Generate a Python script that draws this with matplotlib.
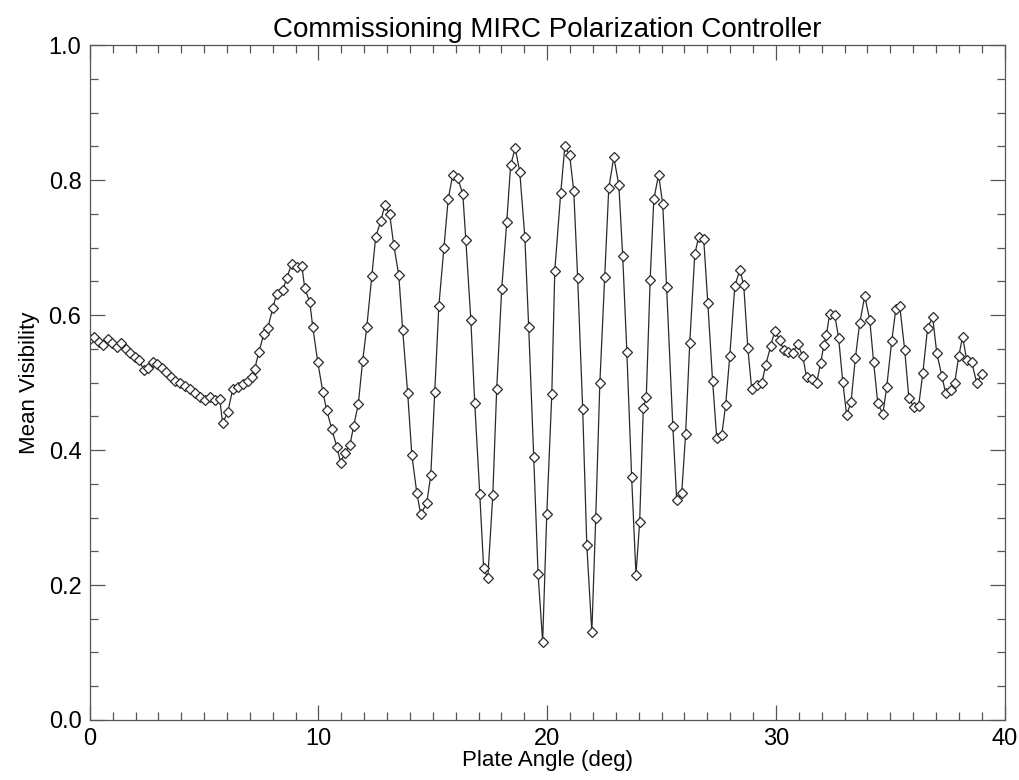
import matplotlib
matplotlib.use("Agg")
import matplotlib.pyplot as plt
from matplotlib.ticker import MultipleLocator

plate_angle = [
    0.00, 0.20, 0.39, 0.59, 0.79, 0.98, 1.18, 1.37, 1.57, 1.77,
    1.96, 2.16, 2.36, 2.55, 2.75, 2.95, 3.14, 3.34, 3.54, 3.73,
    3.93, 4.15, 4.37, 4.59, 4.81, 5.03, 5.25, 5.46, 5.68, 5.81,
    6.03, 6.25, 6.47, 6.69, 6.91, 7.08, 7.21, 7.39, 7.61, 7.78,
    8.00, 8.17, 8.44, 8.61, 8.83, 9.05, 9.27, 9.40, 9.62, 9.75,
    9.97, 10.19, 10.36, 10.58, 10.80, 10.97, 11.15, 11.37, 11.54, 11.74,
    11.93, 12.11, 12.33, 12.50, 12.72, 12.90, 13.11, 13.29, 13.51, 13.68,
    13.90, 14.08, 14.30, 14.47, 14.73, 14.91, 15.08, 15.26, 15.48, 15.67,
    15.87, 16.09, 16.31, 16.44, 16.66, 16.83, 17.05, 17.22, 17.40, 17.62,
    17.79, 18.01, 18.23, 18.40, 18.60, 18.80, 19.02, 19.19, 19.41, 19.60,
    19.80, 19.98, 20.20, 20.33, 20.59, 20.77, 20.98, 21.16, 21.33, 21.55,
    21.73, 21.95, 22.12, 22.30, 22.51, 22.69, 22.91, 23.13, 23.30, 23.48,
    23.69, 23.88, 24.04, 24.20, 24.33, 24.50, 24.66, 24.87, 25.05, 25.22,
    25.49, 25.66, 25.88, 26.05, 26.23, 26.45, 26.62, 26.84, 27.02, 27.23,
    27.41, 27.63, 27.80, 27.98, 28.20, 28.42, 28.59, 28.77, 28.94, 29.16,
    29.38, 29.55, 29.77, 29.95, 30.16, 30.34, 30.51, 30.73, 30.95, 31.17,
    31.34, 31.56, 31.78, 31.95, 32.10, 32.20, 32.35, 32.57, 32.74, 32.92,
    33.09, 33.28, 33.47, 33.66, 33.88, 34.10, 34.27, 34.45, 34.67, 34.84,
    35.06, 35.24, 35.41, 35.63, 35.81, 36.03, 36.24, 36.42, 36.63, 36.85,
    37.03, 37.25, 37.42, 37.64, 37.81, 37.99, 38.16, 38.34, 38.56, 38.78,
    39.00,
]

mean_visibility = [
    0.565, 0.568, 0.560, 0.556, 0.564, 0.558, 0.553, 0.558, 0.550, 0.544,
    0.538, 0.533, 0.519, 0.521, 0.530, 0.527, 0.521, 0.515, 0.509, 0.503,
    0.500, 0.495, 0.490, 0.484, 0.479, 0.474, 0.478, 0.474, 0.476, 0.440,
    0.456, 0.490, 0.494, 0.498, 0.502, 0.508, 0.520, 0.545, 0.572, 0.581,
    0.610, 0.632, 0.637, 0.655, 0.676, 0.671, 0.673, 0.640, 0.619, 0.582,
    0.530, 0.486, 0.459, 0.431, 0.405, 0.381, 0.396, 0.407, 0.436, 0.468,
    0.532, 0.582, 0.658, 0.716, 0.739, 0.763, 0.750, 0.704, 0.659, 0.578,
    0.484, 0.393, 0.336, 0.305, 0.321, 0.363, 0.486, 0.613, 0.699, 0.772,
    0.808, 0.803, 0.779, 0.712, 0.593, 0.470, 0.335, 0.225, 0.210, 0.333,
    0.490, 0.639, 0.738, 0.822, 0.848, 0.812, 0.716, 0.582, 0.389, 0.216,
    0.116, 0.305, 0.483, 0.666, 0.781, 0.850, 0.837, 0.784, 0.655, 0.461,
    0.259, 0.130, 0.299, 0.499, 0.656, 0.788, 0.834, 0.793, 0.687, 0.546,
    0.360, 0.215, 0.293, 0.462, 0.478, 0.652, 0.772, 0.808, 0.764, 0.641,
    0.436, 0.326, 0.336, 0.424, 0.558, 0.690, 0.716, 0.713, 0.618, 0.502,
    0.418, 0.422, 0.467, 0.539, 0.643, 0.667, 0.645, 0.551, 0.490, 0.496,
    0.499, 0.526, 0.554, 0.577, 0.563, 0.548, 0.545, 0.544, 0.557, 0.539,
    0.508, 0.505, 0.499, 0.529, 0.556, 0.570, 0.602, 0.600, 0.566, 0.501,
    0.452, 0.471, 0.536, 0.588, 0.628, 0.593, 0.530, 0.470, 0.453, 0.493,
    0.561, 0.609, 0.614, 0.548, 0.477, 0.464, 0.466, 0.514, 0.581, 0.597,
    0.544, 0.510, 0.484, 0.489, 0.499, 0.539, 0.568, 0.533, 0.530, 0.499,
    0.513,
]

title = "Commissioning MIRC Polarization Controller"
xlabel = "Plate Angle (deg)"
ylabel = "Mean Visibility"
xticks = [0, 10, 20, 30, 40]
yticks = [0.0, 0.2, 0.4, 0.6, 0.8, 1.0]

plt.rcParams['font.family'] = ['Liberation Sans', 'DejaVu Sans']

fig = plt.figure(figsize=(10.2, 7.8), dpi=100)
ax = fig.add_axes([0.088, 0.077, 0.897, 0.865])

ax.plot(plate_angle, mean_visibility, color='#2a2a2a', linewidth=0.9,
        marker='D', markersize=5.4, markerfacecolor='white',
        markeredgecolor='#2a2a2a', markeredgewidth=0.9)

ax.set_xlim(0, 40)
ax.set_ylim(0.0, 1.0)
ax.set_xticks(xticks)
ax.set_yticks(yticks)
ax.set_xticklabels([str(t) for t in xticks])
ax.set_yticklabels([f"{t:.1f}" for t in yticks])
ax.xaxis.set_minor_locator(MultipleLocator(1))
ax.yaxis.set_minor_locator(MultipleLocator(0.05))
ax.tick_params(which='both', direction='in', top=True, right=True,
               color='#555555', width=0.9)
ax.tick_params(which='major', length=11, labelsize=17, pad=6)
ax.tick_params(which='minor', length=6)
for s in ax.spines.values():
    s.set_color('#555555')
    s.set_linewidth(0.9)

ax.set_title(title, fontsize=20, pad=6)
ax.set_xlabel(xlabel, fontsize=16, labelpad=0)
ax.set_ylabel(ylabel, fontsize=16, labelpad=6)

fig.savefig("out.png", dpi=100)
